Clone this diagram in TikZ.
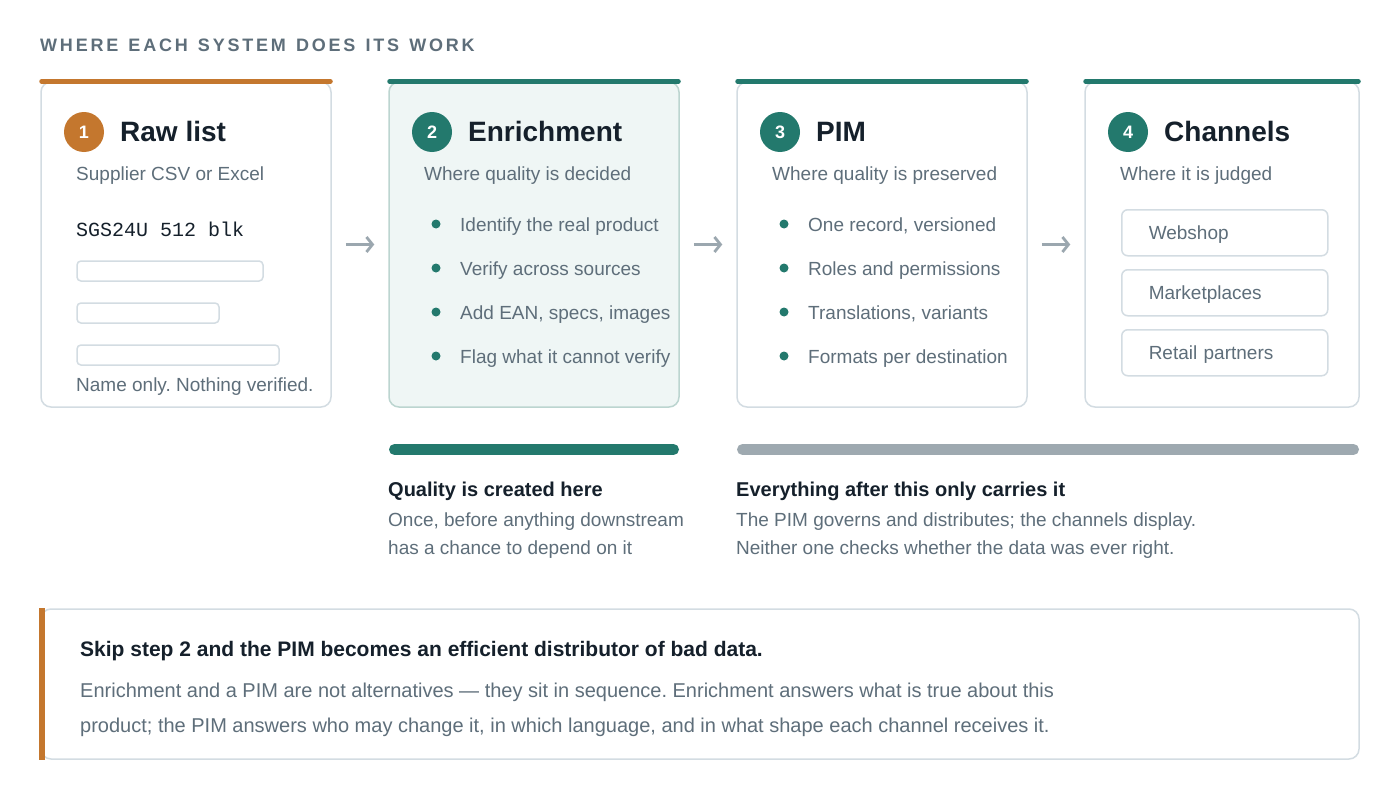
\documentclass[tikz,border=0pt]{standalone}
\usepackage{fontspec}
\setmainfont{Liberation Sans}
\setmonofont{Liberation Mono}
\newfontfamily\spacedfont[LetterSpace=15.5,WordSpace=1.3]{Liberation Sans}
\usetikzlibrary{arrows.meta}
\definecolor{ink}{HTML}{15202B}
\definecolor{muted}{HTML}{5E6E7A}
\definecolor{rust}{HTML}{C4772E}
\definecolor{stepteal}{HTML}{23796D}
\definecolor{edge}{HTML}{D3DCE2}
\definecolor{tint}{HTML}{EFF6F5}
\definecolor{tintedge}{HTML}{BCD5D0}
\definecolor{arrowgray}{HTML}{9BA7AF}
\definecolor{bargray}{HTML}{9EA9B0}
\frenchspacing

\begin{document}
\begin{tikzpicture}[x=1pt,y=-1pt]
\tikzstyle{card}=[rectangle,draw=edge,line width=1.5pt,rounded corners=10pt,minimum height=325pt,fill=white]
\tikzstyle{topbar}=[line width=5pt,line cap=round]
\tikzstyle{badge}=[circle,minimum size=40pt,inner sep=0pt,text=white,font=\fontsize{18}{20}\selectfont\bfseries]
\tikzstyle{head}=[anchor=base west,inner sep=0pt,text=ink,font=\fontsize{28}{32}\selectfont\bfseries]
\tikzstyle{sub}=[anchor=base west,inner sep=0pt,text=muted,font=\fontsize{19}{23}\selectfont]
\tikzstyle{lead}=[anchor=base west,inner sep=0pt,text=ink,font=\fontsize{20}{24}\selectfont\bfseries]
\tikzstyle{field}=[draw=edge,line width=1.5pt,rounded corners=4pt]
\tikzstyle{dot}=[circle,fill=stepteal,inner sep=0pt,minimum size=9pt]
\tikzstyle{chan}=[rectangle,draw=edge,line width=1.5pt,rounded corners=6pt,anchor=north west,minimum height=46pt,text width=152pt,inner xsep=27pt,align=left,text height=17pt,text depth=4pt,text=muted,font=\fontsize{19}{23}\selectfont]
\tikzstyle{flow}=[arrowgray,line width=2.8pt,-{Straight Barb[length=6pt,width=15pt]}]
\useasboundingbox[fill=white] (0,0) rectangle (1400,800);
\node[anchor=base west,inner sep=0pt,text=muted,font=\spacedfont\bfseries\fontsize{18}{20}\selectfont] (hdr) at (40,52) {WHERE EACH SYSTEM DOES ITS WORK};
\node[card,minimum width=290pt] (c1) at (186,244.5) {};
\node[card,minimum width=290pt,fill=tint,draw=tintedge] (c2) at (534,244.5) {};
\node[card,minimum width=290pt] (c3) at (882,244.5) {};
\node[card,minimum width=274pt] (c4) at (1222,244.5) {};
\draw[topbar,rust] ([xshift=1.5pt]c1.north west) -- ([xshift=-1.5pt]c1.north east);
\draw[topbar,stepteal] ([xshift=1.5pt]c2.north west) -- ([xshift=-1.5pt]c2.north east);
\draw[topbar,stepteal] ([xshift=1.5pt]c3.north west) -- ([xshift=-1.5pt]c3.north east);
\draw[topbar,stepteal] ([xshift=1.5pt]c4.north west) -- ([xshift=-1.5pt]c4.north east);
\node[badge,fill=rust] (n1) at (84,132) {1};
\node[badge,fill=stepteal] (n2) at (432,132) {2};
\node[badge,fill=stepteal] (n3) at (780,132) {3};
\node[badge,fill=stepteal] (n4) at (1128,132) {4};
\node[head] (t1) at (120,141) {Raw list};
\node[head] (t2) at (468,141) {Enrichment};
\node[head] (t3) at (816,141) {PIM};
\node[head] (t4) at (1164,141) {Channels};
\node[sub] (s1) at (76,180) {Supplier CSV or Excel};
\node[sub] (s2) at (424,180) {Where quality is decided};
\node[sub] (s3) at (772,180) {Where quality is preserved};
\node[sub] (s4) at (1120,180) {Where it is judged};
\node[anchor=base west,inner sep=0pt,text=ink,font=\ttfamily\fontsize{20}{24}\selectfont] (sku) at (76,236) {SGS24U 512 blk};
\draw[field] (77,261) rectangle (263,281);
\draw[field] (77,303) rectangle (219,323);
\draw[field] (77,345) rectangle (279,365);
\node[sub] (s5) at (76,391) {Name only. Nothing verified.};
\node[dot] (d1) at (436,224) {};
\node[dot] (d2) at (436,268) {};
\node[dot] (d3) at (436,312) {};
\node[dot] (d4) at (436,356) {};
\node[sub] (e1) at (460,231) {Identify the real product};
\node[sub] (e2) at (460,275) {Verify across sources};
\node[sub] (e3) at (460,319) {Add EAN, specs, images};
\node[sub] (e4) at (460,363) {Flag what it cannot verify};
\node[dot] (d5) at (784,224) {};
\node[dot] (d6) at (784,268) {};
\node[dot] (d7) at (784,312) {};
\node[dot] (d8) at (784,356) {};
\node[sub] (p1) at (808,231) {One record, versioned};
\node[sub] (p2) at (808,275) {Roles and permissions};
\node[sub] (p3) at (808,319) {Translations, variants};
\node[sub] (p4) at (808,363) {Formats per destination};
\node[chan] (b1) at (1121,209) {Webshop};
\node[chan] (b2) at (1121,269) {Marketplaces};
\node[chan] (b3) at (1121,329) {Retail partners};
\draw[flow] ([xshift=14pt]c1.east) -- ([xshift=-14pt]c2.west);
\draw[flow] ([xshift=14pt]c2.east) -- ([xshift=-14pt]c3.west);
\draw[flow] ([xshift=14pt]c3.east) -- ([xshift=-14pt]c4.west);
\draw[line width=11pt,line cap=round,stepteal] (394.5,449.5) -- (673.5,449.5);
\draw[line width=11pt,line cap=round,bargray] (742.5,449.5) -- (1353.5,449.5);
\node[lead] (q1) at (388,496) {Quality is created here};
\node[sub] (q2) at (388,526) {Once, before anything downstream};
\node[sub] (q3) at (388,554) {has a chance to depend on it};
\node[lead] (r1) at (736,496) {Everything after this only carries it};
\node[sub] (r2) at (736,526) {The PIM governs and distributes; the channels display.};
\node[sub] (r3) at (736,554) {Neither one checks whether the data was ever right.};
\node[rectangle,draw=edge,line width=1.5pt,rounded corners=10pt,minimum width=1318pt,minimum height=150pt] (k) at (700,684) {};
\fill[rust] ([xshift=-1pt]k.north west) rectangle ([xshift=5pt]k.south west);
\node[anchor=base west,inner sep=0pt,text=ink,font=\fontsize{21}{25}\selectfont\bfseries] (k1) at (80,656) {Skip step 2 and the PIM becomes an efficient distributor of bad data.};
\node[anchor=base west,inner sep=0pt,text=muted,font=\fontsize{20}{24}\selectfont] (k2) at (80,697) {Enrichment and a PIM are not alternatives — they sit in sequence. Enrichment answers what is true about this};
\node[anchor=base west,inner sep=0pt,text=muted,font=\fontsize{20}{24}\selectfont] (k3) at (80,732) {product; the PIM answers who may change it, in which language, and in what shape each channel receives it.};
\end{tikzpicture}
\end{document}
